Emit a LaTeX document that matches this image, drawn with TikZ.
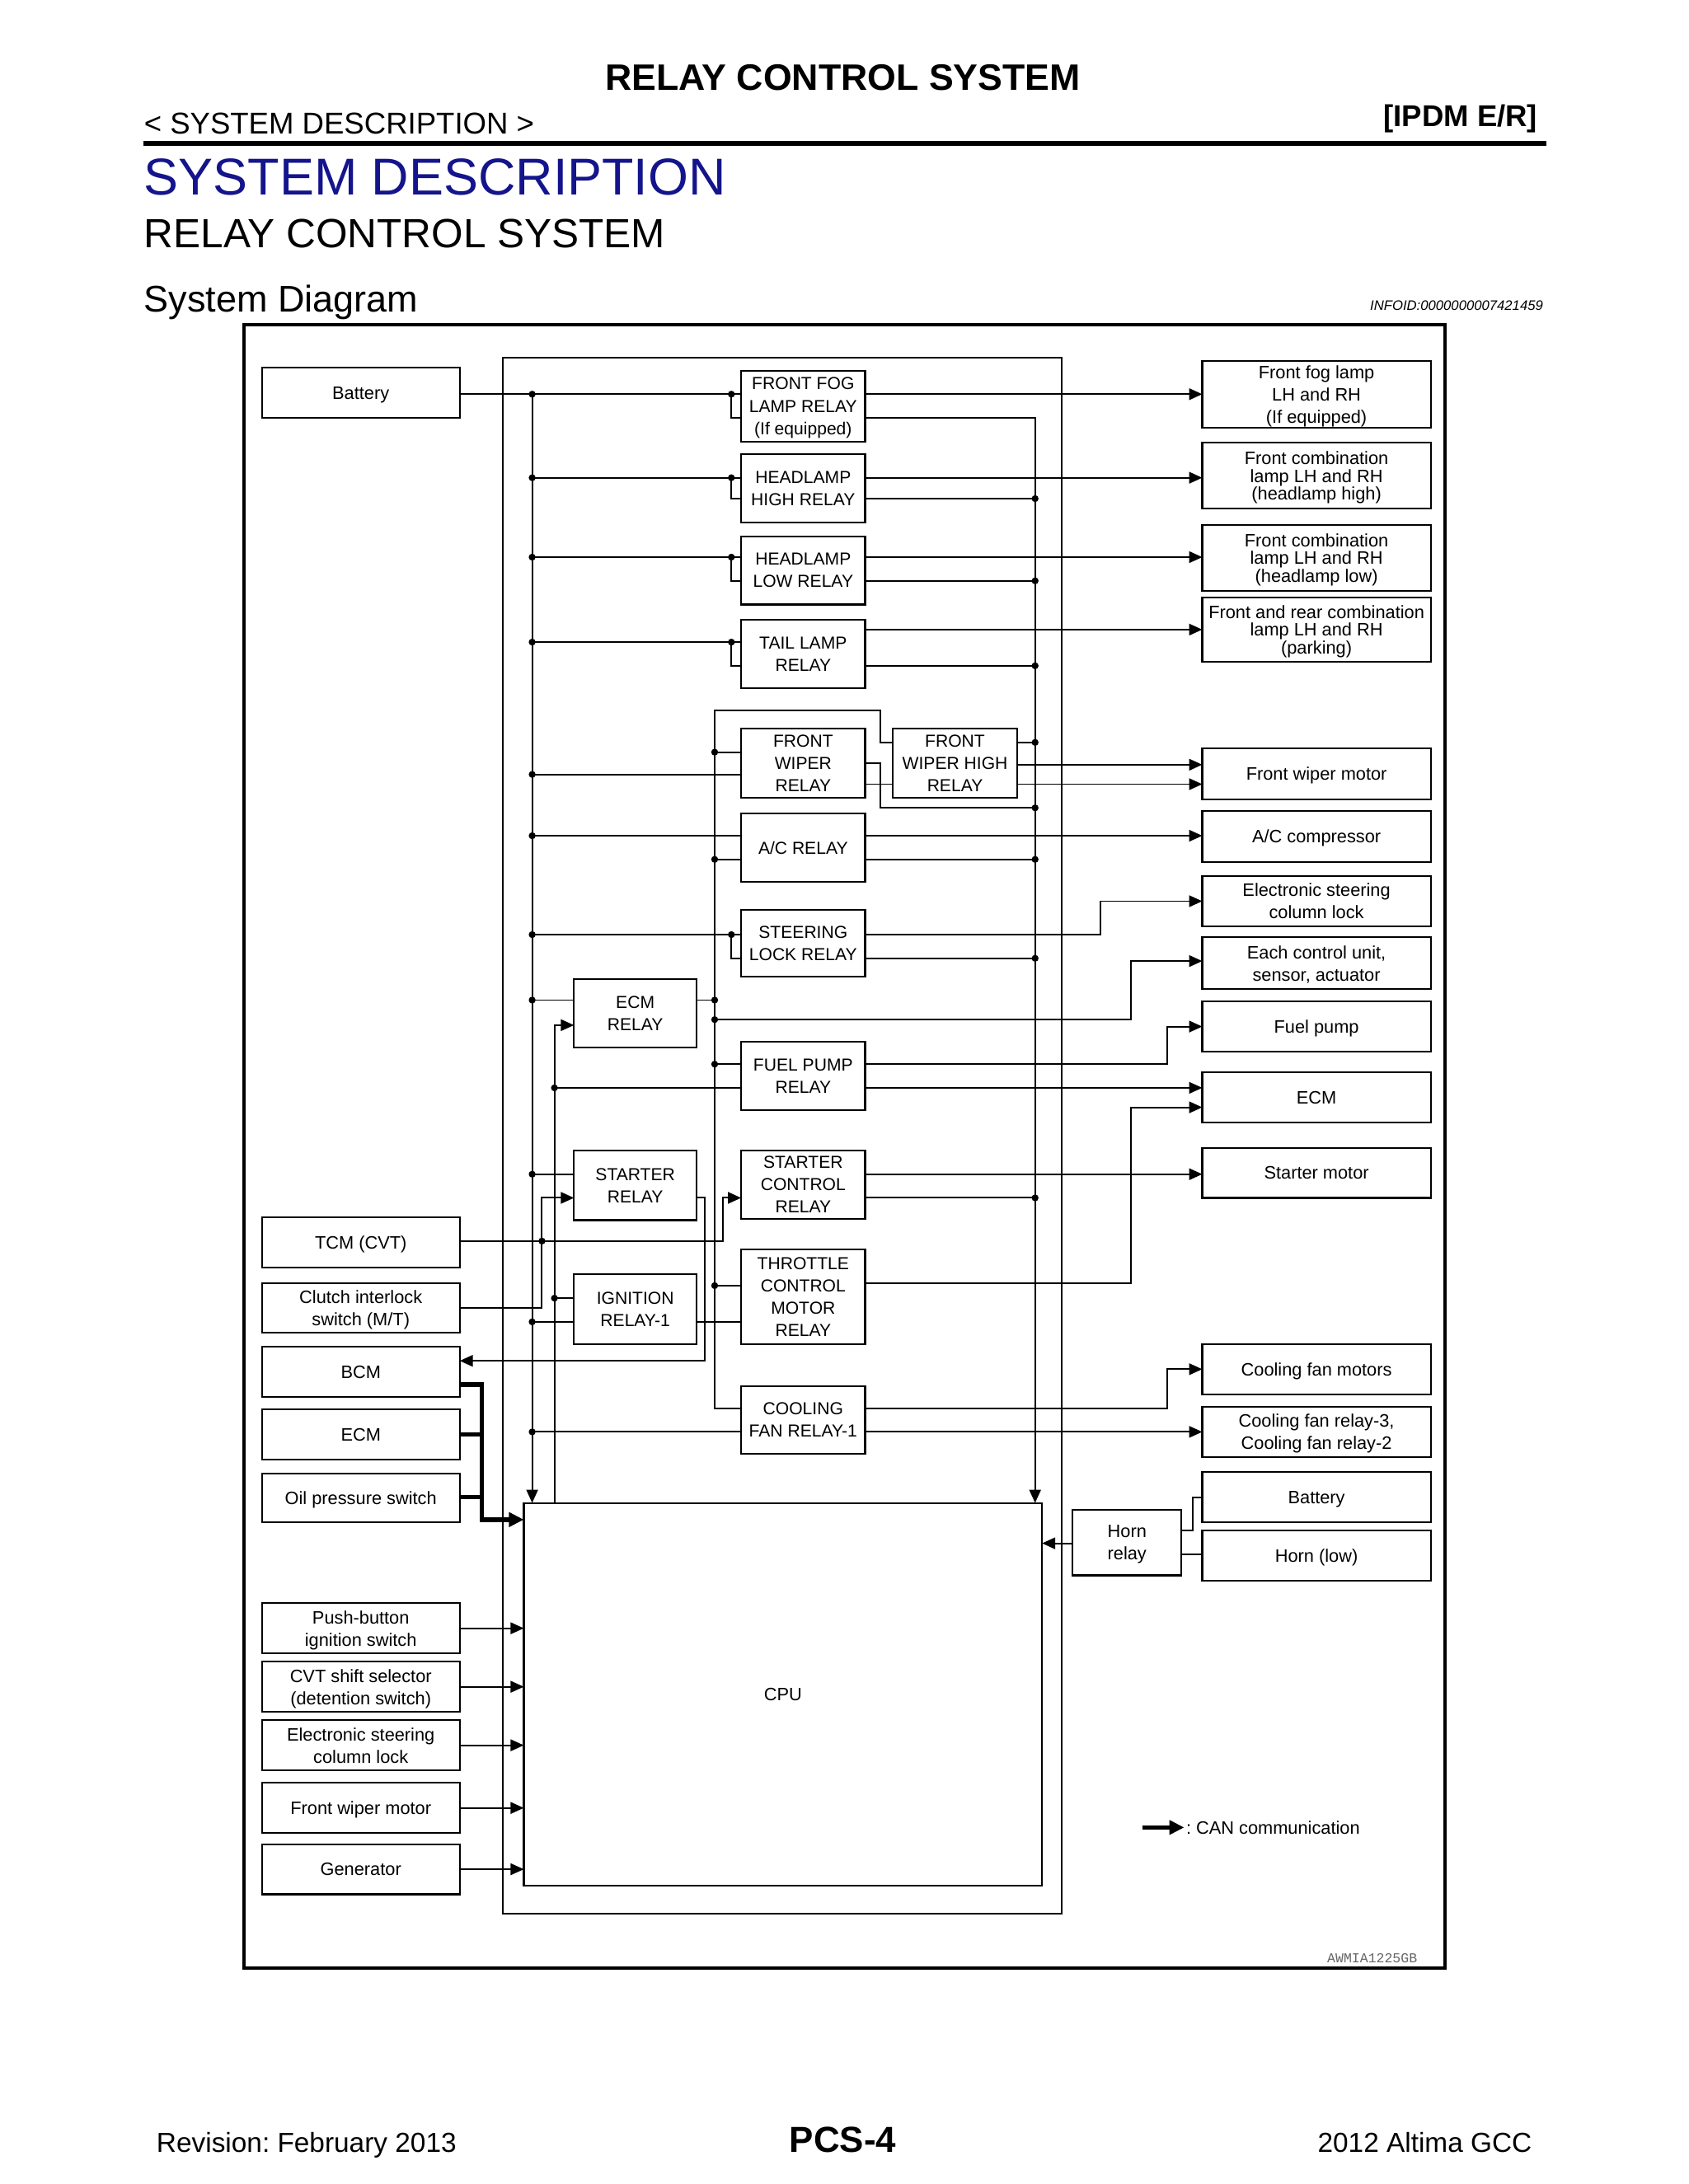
\documentclass[tikz,border=0pt]{standalone}
\usepackage{fontspec}
\setmainfont{Liberation Sans}
\newfontfamily\monofont{Liberation Mono}
\usetikzlibrary{arrows.meta}
\definecolor{titleblue}{RGB}{20,20,140}
\frenchspacing
% box macros: name, x1, y1, x2, y2, text
\newcommand\rbx[6]{\node[box,font=\fontsize{6}{7.7}\selectfont,minimum width={(#4-#2)*0.169mm},minimum height={(#5-#3)*0.169mm}] (#1) at ({(#2+#4)/2},{(#3+#5)/2}) {#6};}
\newcommand\tbx[6]{\node[box,font=\fontsize{6.2}{7.7}\selectfont,minimum width={(#4-#2)*0.169mm},minimum height={(#5-#3)*0.169mm}] (#1) at ({(#2+#4)/2},{(#3+#5)/2}) {#6};}
\newcommand\lbx[6]{\node[box,font=\fontsize{6.2}{6.1}\selectfont,minimum width={(#4-#2)*0.169mm},minimum height={(#5-#3)*0.169mm}] (#1) at ({(#2+#4)/2},{(#3+#5)/2}) {#6};}
\newcommand\jd[1]{\fill (#1) circle[radius=0.42mm];}
\begin{document}
\begin{tikzpicture}[x=0.169mm,y=-0.169mm,
  box/.style={draw,line width=0.6pt,inner sep=0pt,outer sep=0pt,align=center,text depth=0pt},
  ln/.style={line width=0.55pt},
  arr/.style={ln,-{Triangle[length=1.6mm,width=1.4mm]}},
  canl/.style={line width=1.5pt,line join=miter},
  can/.style={canl,-{Triangle[length=1.8mm,width=1.7mm]}}]
\fill[white] (0,0) rectangle (1212,1568);
\useasboundingbox (0,0) rectangle (1212,1568);

% ---------- header ----------
\node[anchor=base,font=\bfseries\fontsize{12.7}{15}\selectfont,inner sep=0] (title) at (605,65) {RELAY CONTROL SYSTEM};
\node[anchor=base west,font=\fontsize{10.4}{12}\selectfont,inner sep=0] (sdesc) at (103,96) {< SYSTEM DESCRIPTION >};
\node[anchor=base east,font=\bfseries\fontsize{10.4}{12}\selectfont,inner sep=0] (ipdm) at (1104,91) {[IPDM E/R]};
\draw[line width=1.5pt] (103,103) -- (1110,103);
\node[anchor=base west,text=titleblue,font=\fontsize{17.9}{20}\selectfont,inner sep=0] (h1) at (103,140) {SYSTEM DESCRIPTION};
\node[anchor=base west,font=\fontsize{14.1}{16}\selectfont,inner sep=0] (h2) at (103,178) {RELAY CONTROL SYSTEM};
\node[anchor=base west,font=\fontsize{12.8}{15}\selectfont,inner sep=0] (h3) at (103,224) {System Diagram};
\node[anchor=base east,font=\itshape\fontsize{4.75}{6}\selectfont,inner sep=0] (infoid) at (1108,223) {INFOID:0000000007421459};

% ---------- footer ----------
\node[anchor=base west,font=\fontsize{9.5}{11}\selectfont,inner sep=0] (rev) at (112,1545) {Revision: February 2013};
\node[anchor=base,font=\bfseries\fontsize{12.5}{14}\selectfont,inner sep=0] (page) at (605,1545) {PCS-4};
\node[anchor=base east,font=\fontsize{9.5}{11}\selectfont,inner sep=0] (model) at (1100,1545) {2012 Altima GCC};

% ---------- frames ----------
\draw[line width=1.1pt] (175,233) rectangle (1037,1413);
\draw[ln] (361,257) rectangle (762,1374);
\node[font=\monofont\fontsize{4.7}{6}\selectfont,text=black!60,inner sep=0] (code) at (985,1406) {AWMIA1225GB};

% ---------- left boxes ----------
\tbx{batL}{188}{264}{330}{300}{Battery}
\tbx{tcm}{188}{874}{330}{910}{TCM (CVT)}
\tbx{clutch}{188}{921}{330}{957}{Clutch interlock\\switch (M/T)}
\tbx{bcm}{188}{967}{330}{1003}{BCM}
\tbx{ecmL}{188}{1012}{330}{1048}{ECM}
\tbx{oil}{188}{1058}{330}{1093}{Oil pressure switch}
\tbx{push}{188}{1151}{330}{1187}{Push-button\\ignition switch}
\tbx{cvt}{188}{1193}{330}{1229}{CVT shift selector\\(detention switch)}
\tbx{escl}{188}{1235}{330}{1271}{Electronic steering\\column lock}
\tbx{fwmL}{188}{1280}{330}{1316}{Front wiper motor}
\tbx{gen}{188}{1324}{330}{1360}{Generator}

% ---------- relays ----------
\rbx{fog}{532}{266}{621}{317}{FRONT FOG\\LAMP RELAY\\(If equipped)}
\rbx{hhigh}{532}{326}{621}{375}{HEADLAMP\\HIGH RELAY}
\rbx{hlow}{532}{385}{621}{434}{HEADLAMP\\LOW RELAY}
\rbx{tail}{532}{445}{621}{494}{TAIL LAMP\\RELAY}
\rbx{fwr}{532}{523}{621}{573}{FRONT\\WIPER\\RELAY}
\rbx{fwh}{641}{523}{730}{573}{FRONT\\WIPER HIGH\\RELAY}
\rbx{ac}{532}{584}{621}{633}{A/C RELAY}
\rbx{steer}{532}{653}{621}{701}{STEERING\\LOCK RELAY}
\rbx{ecmr}{412}{703}{500}{752}{ECM\\RELAY}
\rbx{fuel}{532}{748}{621}{797}{FUEL PUMP\\RELAY}
\rbx{str}{412}{826}{500}{876}{STARTER\\RELAY}
\rbx{stc}{532}{826}{621}{875}{STARTER\\CONTROL\\RELAY}
\rbx{ign}{412}{915}{500}{965}{IGNITION\\RELAY-1}
\rbx{thr}{532}{897}{621}{965}{THROTTLE\\CONTROL\\MOTOR\\RELAY}
\rbx{cool}{532}{995}{621}{1044}{COOLING\\FAN RELAY-1}
\tbx{cpu}{376}{1079}{748}{1354}{CPU}
\tbx{hornrelay}{770}{1084}{848}{1131}{Horn\\relay}

% ---------- right boxes ----------
\tbx{fogR}{863}{259}{1027}{307}{Front fog lamp\\LH and RH\\(If equipped)}
\lbx{hhR}{863}{318}{1027}{365}{Front combination\\lamp LH and RH\\(headlamp high)}
\lbx{hlR}{863}{377}{1027}{424}{Front combination\\lamp LH and RH\\(headlamp low)}
\lbx{parkR}{863}{429}{1027}{475}{Front and rear combination\\lamp LH and RH\\(parking)}
\tbx{fwmR}{863}{537}{1027}{574}{Front wiper motor}
\tbx{acR}{863}{582}{1027}{619}{A/C compressor}
\tbx{esclR}{863}{629}{1027}{665}{Electronic steering\\column lock}
\tbx{eachR}{863}{673}{1027}{710}{Each control unit,\\sensor, actuator}
\tbx{fuelR}{863}{719}{1027}{755}{Fuel pump}
\tbx{ecmR}{863}{770}{1027}{806}{ECM}
\tbx{stmR}{863}{824}{1027}{860}{Starter motor}
\tbx{cfmR}{863}{965}{1027}{1001}{Cooling fan motors}
\tbx{cfrR}{863}{1010}{1027}{1046}{Cooling fan relay-3,\\Cooling fan relay-2}
\tbx{batR}{863}{1057}{1027}{1093}{Battery}
\tbx{hornR}{863}{1099}{1027}{1135}{Horn (low)}

% ---------- bus A (battery feed) ----------
\draw[ln] (batL.east |- 0,283) -- (fog.west |- 0,283);
\draw[arr] (382,283) -- (cpu.north -| 382,0);
\draw[ln] (525,283) |- (fog.west |- 0,300);
\draw[ln] (382,343) -- (hhigh.west |- 0,343);
\draw[ln] (525,343) |- (hhigh.west |- 0,358);
\draw[ln] (382,400) -- (hlow.west |- 0,400);
\draw[ln] (525,400) |- (hlow.west |- 0,417);
\draw[ln] (382,461) -- (tail.west |- 0,461);
\draw[ln] (525,461) |- (tail.west |- 0,478);
\draw[ln] (382,556) -- (fwr.west |- 0,556);
\draw[ln] (382,600) -- (ac.west |- 0,600);
\draw[ln] (382,671) -- (steer.west |- 0,671);
\draw[ln] (525,671) |- (steer.west |- 0,688);
\draw[ln] (382,718) -- (ecmr.west |- 0,718);
\draw[ln] (382,843) -- (str.west |- 0,843);
\draw[ln] (382,949) -- (ign.west |- 0,949);
\draw[ln] (382,1028) -- (cool.west |- 0,1028);

% ---------- lamp relay outputs, bus C ----------
\draw[arr] (fog.east |- 0,283) -- (fogR.west |- 0,283);
\draw[arr] (fog.east |- 0,300) -| (cpu.north -| 743,0);
\draw[arr] (hhigh.east |- 0,343) -- (hhR.west |- 0,343);
\draw[ln] (hhigh.east |- 0,358) -- (743,358);
\draw[arr] (hlow.east |- 0,400) -- (hlR.west |- 0,400);
\draw[ln] (hlow.east |- 0,417) -- (743,417);
\draw[arr] (tail.east |- 0,452) -- (parkR.west |- 0,452);
\draw[ln] (tail.east |- 0,478) -- (743,478);

% ---------- bus D ----------
\draw[ln] (cool.west |- 0,1011) -| (513,510) -| (632,533) -- (fwh.west |- 0,533);
\draw[ln] (513,540) -- (fwr.west |- 0,540);
\draw[ln] (fwr.east |- 0,548) -| (632,580) -- (743,580);
\draw[ln] (fwr.east |- 0,563) -- (fwh.west |- 0,563);
\draw[ln] (fwh.east |- 0,533) -- (743,533);
\draw[arr] (fwh.east |- 0,549) -- (fwmR.west |- 0,549);
\draw[arr] (fwh.east |- 0,563) -- (fwmR.west |- 0,563);
\draw[ln] (513,617) -- (ac.west |- 0,617);
\draw[arr] (ac.east |- 0,600) -- (acR.west |- 0,600);
\draw[ln] (ac.east |- 0,617) -- (743,617);
\draw[arr] (steer.east |- 0,671) -| (790,647) -- (esclR.west |- 0,647);
\draw[ln] (steer.east |- 0,688) -- (743,688);
\draw[ln] (ecmr.east |- 0,718) -- (513,718);
\draw[arr] (513,732) -| (812,690) -- (eachR.west |- 0,690);
\draw[ln] (513,764) -- (fuel.west |- 0,764);
\draw[arr] (fuel.east |- 0,764) -| (838,737) -- (fuelR.west |- 0,737);
\draw[ln] (398,781) -- (fuel.west |- 0,781);
\draw[arr] (fuel.east |- 0,781) -- (ecmR.west |- 0,781);

% ---------- bus B ----------
\draw[arr] (cpu.north -| 398,0) -- (398,736) -- (ecmr.west |- 0,736);
\draw[ln] (398,932) -- (ign.west |- 0,932);
\draw[ln] (ign.east |- 0,949) -- (thr.west |- 0,949);
\draw[ln] (513,923) -- (thr.west |- 0,923);
\draw[arr] (thr.east |- 0,921) -| (812,795) -- (ecmR.west |- 0,795);
\draw[arr] (stc.east |- 0,843) -- (stmR.west |- 0,843);
\draw[ln] (stc.east |- 0,860) -- (743,860);
\draw[arr] (tcm.east |- 0,891) -| (519,860) -- (stc.west |- 0,860);
\draw[arr] (clutch.east |- 0,939) -| (389,860) -- (str.west |- 0,860);
\draw[arr] (str.east |- 0,860) -| (506,977) -- (bcm.east |- 0,977);
\draw[arr] (cool.east |- 0,1011) -| (838,983) -- (cfmR.west |- 0,983);
\draw[arr] (cool.east |- 0,1028) -- (cfrR.west |- 0,1028);

% ---------- CAN ----------
\draw[can] (bcm.east |- 0,994) -| (346,1091) -- (cpu.west |- 0,1091);
\draw[canl] (ecmL.east |- 0,1030) -- (346,1030);
\draw[canl] (oil.east |- 0,1075) -- (346,1075);

% ---------- horn ----------
\draw[arr] (hornrelay.west |- 0,1108) -- (cpu.east |- 0,1108);
\draw[ln] (hornrelay.east |- 0,1099) -| (856,1075) -- (batR.west |- 0,1075);
\draw[ln] (hornrelay.east |- 0,1116) -- (hornR.west |- 0,1116);

% ---------- lower inputs ----------
\draw[arr] (push.east) -- (cpu.west |- push.east);
\draw[arr] (cvt.east) -- (cpu.west |- cvt.east);
\draw[arr] (escl.east) -- (cpu.west |- escl.east);
\draw[arr] (fwmL.east) -- (cpu.west |- fwmL.east);
\draw[arr] (gen.east) -- (cpu.west |- gen.east);

% ---------- junction dots ----------
\foreach \yy in {283,343,400,461,556,600,671,718,843,949,1028} {\jd{382,\yy}}
\foreach \yy in {283,343,400,461,671} {\jd{525,\yy}}
\foreach \yy in {358,417,478,533,580,617,688,860} {\jd{743,\yy}}
\foreach \yy in {540,617,718,732,764,923} {\jd{513,\yy}}
\foreach \yy in {781,932} {\jd{398,\yy}}
\jd{389,891}

% ---------- legend ----------
\coordinate (legA) at (820,1312);
\coordinate (legB) at (850,1312);
\draw[can] (legA) -- (legB);
\node[anchor=west,font=\fontsize{6.2}{7.7}\selectfont,inner sep=0.5pt] (legT) at (legB) {: CAN communication};
\end{tikzpicture}
\end{document}
